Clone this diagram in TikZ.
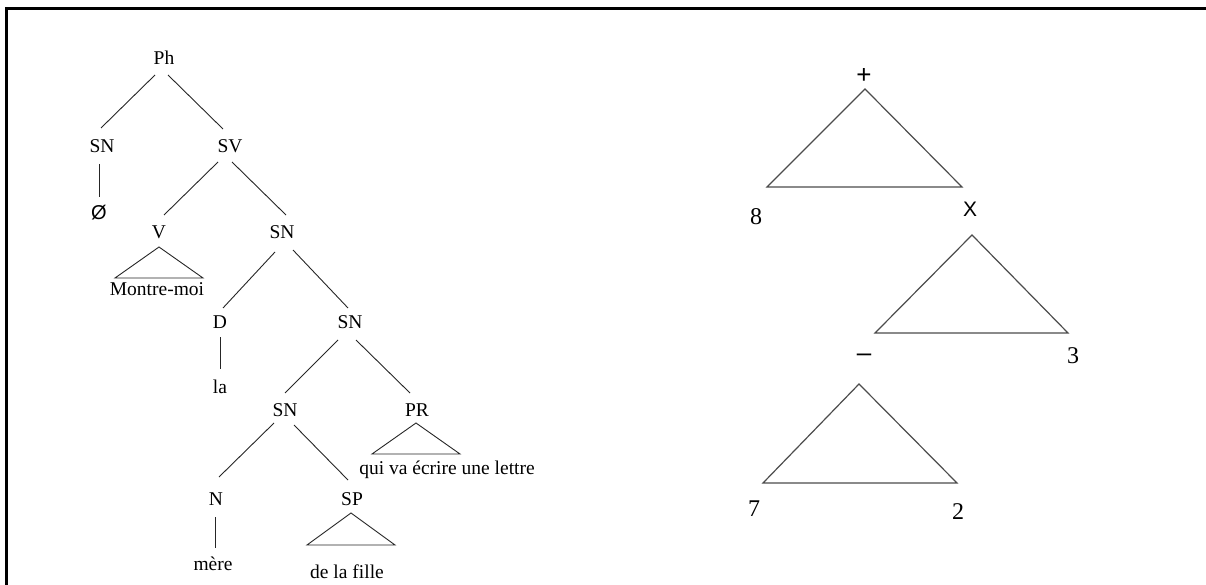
\documentclass[tikz,border=0pt]{standalone}
\usepackage{fontspec}
\setmainfont{Liberation Serif}
\newfontfamily\sansf{Liberation Sans}
\begin{document}
\begin{tikzpicture}[x=1pt,y=-1pt,
  lbl/.style={anchor=base,inner sep=0pt,font=\fontsize{19.5}{22}\selectfont},
  num/.style={anchor=base,inner sep=0pt,font=\fontsize{24}{28}\selectfont},
  sym/.style={inner sep=0pt,font=\sansf\fontsize{26}{30}\selectfont},
  edge/.style={draw=black!85,line width=0.9pt},
  tri/.style={draw=black!70,line width=1.2pt,line join=miter}]
\useasboundingbox (0,0) rectangle (1206,585);
% frame
\draw[line width=3pt] (1206,9) -- (6,9) -- (6,585);
% ---- left tree ----
\node[lbl] (Ph) at (164,65) {Ph};
\node[lbl] (SNa) at (102,153) {SN};
\node[lbl] (SV) at (230,153) {SV};
\node[lbl,font=\sansf\fontsize{20}{24}\selectfont] (empty) at (99,220) {Ø};
\node[lbl] (V) at (159,239) {V};
\node[lbl] (SNb) at (282,239) {SN};
\node[lbl] (Mm) at (157,295) {Montre-moi};
\node[lbl] (D) at (220,328) {D};
\node[lbl] (SNc) at (350,328) {SN};
\node[lbl] (la) at (220,393) {la};
\node[lbl] (SNd) at (285,416) {SN};
\node[lbl] (PR) at (417,416) {PR};
\node[lbl] (qui) at (447,474) {qui va écrire une lettre};
\node[lbl] (N) at (216,505) {N};
\node[lbl] (SP) at (352,505) {SP};
\node[lbl] (mere) at (213,570) {mère};
\node[lbl] (fille) at (347,578) {de la fille};

\draw[edge] ([shift={(-9,10)}]Ph.base) -- ([shift={(-1,-25)}]SNa.base);
\draw[edge] ([shift={(4,10)}]Ph.base) -- ([shift={(-7,-24)}]SV.base);
\draw[edge] ([shift={(-3,11)}]SNa.base) -- ([shift={(0,-23)}]empty.base);
\draw[edge] ([shift={(-12,9)}]SV.base) -- ([shift={(5,-24)}]V.base);
\draw[edge] ([shift={(2,9)}]SV.base) -- ([shift={(4,-24)}]SNb.base);
\draw[edge] ([shift={(0,8)}]V.base) -- ++(-44,31) -- ++(88,0) -- cycle;
\draw[edge] ([shift={(-7,13)}]SNb.base) -- ([shift={(3,-20)}]D.base);
\draw[edge] ([shift={(11,11)}]SNb.base) -- ([shift={(-2,-20)}]SNc.base);
\draw[edge] ([shift={(0,9)}]D.base) -- ([shift={(0,-24)}]la.base);
\draw[edge] ([shift={(-12,12)}]SNc.base) -- ([shift={(0,-23)}]SNd.base);
\draw[edge] ([shift={(6,12)}]SNc.base) -- ([shift={(-7,-23)}]PR.base);
\draw[edge] ([shift={(-1,7)}]PR.base) -- ++(-44,31) -- ++(88,0) -- cycle;
\draw[edge] ([shift={(-11,7)}]SNd.base) -- ([shift={(3,-28)}]N.base);
\draw[edge] ([shift={(9,9)}]SNd.base) -- ([shift={(-4,-25)}]SP.base);
\draw[edge] ([shift={(-1,12)}]N.base) -- ([shift={(2,-22)}]mere.base);
\draw[edge] ([shift={(-1,8)}]SP.base) -- ++(-44,32) -- ++(88,0) -- cycle;

% ---- right triangles ----
\node[sym] (plus) at (864,76) {+};
\node[num] (eight) at (756,225) {8};
\node[anchor=base,inner sep=0pt,font=\sansf\fontsize{21}{25}\selectfont] (times) at (970,217) {X};
\node[sym] (minus) at (864,358) {–};
\node[num] (three) at (1073,363) {3};
\node[num] (seven) at (754,516) {7};
\node[num] (two) at (958,519) {2};

\draw[tri] ([shift={(1,13)}]plus.center) -- ++(-98,98) -- ++(195,0) -- cycle;
\draw[tri] ([shift={(2,18)}]times.base) -- ++(-97,98) -- ++(193,0) -- cycle;
\draw[tri] ([shift={(-5,26)}]minus.center) -- ++(-96,99) -- ++(194,0) -- cycle;
\end{tikzpicture}
\end{document}
